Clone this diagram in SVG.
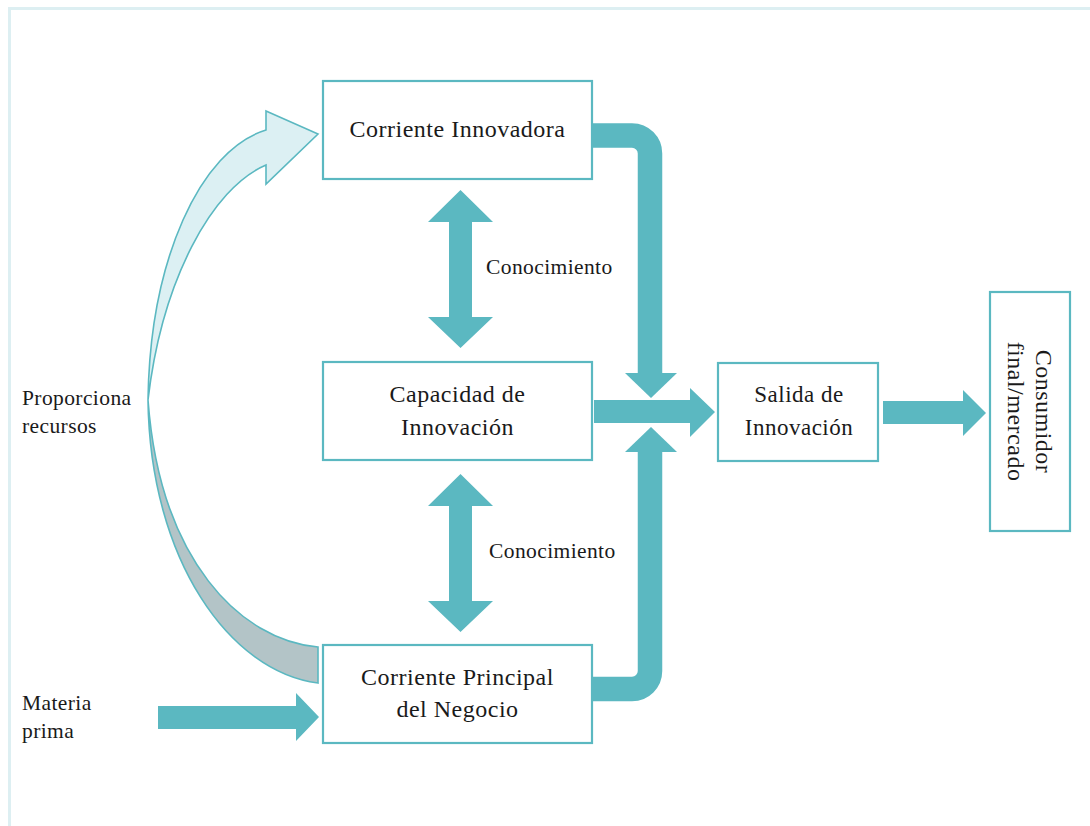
<svg xmlns="http://www.w3.org/2000/svg" width="1090" height="826" viewBox="0 0 1090 826">
  <style>
    .box { fill: #ffffff; stroke: #5bb8c1; stroke-width: 2.2; }
    .lbl { font-family: "Liberation Serif", "Times New Roman", serif; fill: #1a1a1a; }
    .big { font-size: 24px; letter-spacing: 0.5px; text-anchor: middle; }
    .small { font-size: 21.5px; letter-spacing: 0.4px; }
    .teal { fill: #5bb8c1; stroke: none; }
  </style>
  <rect x="0" y="0" width="1090" height="826" fill="#ffffff"/>
  <rect x="9.5" y="8.5" width="1200" height="900" fill="none" stroke="#ddeff2" stroke-width="3"/>

  <g id="connectors">
    <!-- curved resource arrow -->
    <path d="M148,400 C150,560 230,672 318,683 L318,647 C240,640 160,560 148,400 Z" fill="#b3c4c7" stroke="#5bb8c1" stroke-width="1.6"/>
    <path d="M148,400 C150,260 200,150 266,130 L266,111 L318,134 L266,184 L266,165 C212,188 162,280 148,400 Z" fill="#dcf0f3" stroke="#5bb8c1" stroke-width="1.6"/>
    <!-- materia prima arrow -->
    <path class="teal" d="M158,706 H296 V693 L319,717 L296,741 V729 H158 Z"/>
    <!-- conocimiento double arrows -->
    <path class="teal" d="M460.5,190 L493,222 H472 V317 H493 L460.5,348 L428,317 H449 V222 H428 Z"/>
    <path class="teal" d="M460.5,474 L493,506 H472 V601 H493 L460.5,632 L428,601 H449 V506 H428 Z"/>
    <!-- bent arrow from Corriente Innovadora -->
    <path d="M593,135.5 H632 A18,18 0 0 1 650,153.5 V374" fill="none" stroke="#5bb8c1" stroke-width="24.5"/>
    <path class="teal" d="M625,373 H677 L651,398 Z"/>
    <!-- bent arrow from Corriente Principal -->
    <path d="M593,689 H632 A18,18 0 0 0 650,671 V451" fill="none" stroke="#5bb8c1" stroke-width="24.5"/>
    <path class="teal" d="M625,452 H677 L651,427 Z"/>
    <!-- horizontal arrow from Capacidad -->
    <path class="teal" d="M594,400 H690 V388 L715,412 L690,437 V423 H594 Z" stroke="#ffffff" stroke-width="0.8"/>
    <!-- arrow to consumidor -->
    <path class="teal" d="M883,401 H963 V390 L986,413 L963,436 V424 H883 Z"/>
  </g>

  <g id="node-corriente-innovadora">
    <rect class="box" x="323" y="81" width="269" height="98"/>
    <text class="lbl big" x="457.5" y="137">Corriente Innovadora</text>
  </g>
  <g id="node-capacidad">
    <rect class="box" x="323" y="362" width="269" height="98"/>
    <text class="lbl big" x="457.5" y="402">Capacidad de</text>
    <text class="lbl big" x="457.5" y="435">Innovación</text>
  </g>
  <g id="node-corriente-principal">
    <rect class="box" x="323" y="645" width="269" height="98"/>
    <text class="lbl big" x="457.5" y="685">Corriente Principal</text>
    <text class="lbl big" x="457.5" y="717">del Negocio</text>
  </g>
  <g id="node-salida">
    <rect class="box" x="718" y="363" width="160" height="98"/>
    <text class="lbl big" x="799" y="402" style="font-size:23px">Salida de</text>
    <text class="lbl big" x="799" y="435" style="font-size:23px">Innovación</text>
  </g>
  <g id="node-consumidor">
    <rect class="box" x="990" y="292" width="80" height="239"/>
    <g transform="translate(1036,411.5) rotate(90)">
      <text class="lbl big" x="0" y="0">Consumidor</text>
      <text class="lbl big" x="0" y="28">final/mercado</text>
    </g>
  </g>

  <g id="labels">
    <text class="lbl small" x="486" y="274">Conocimiento</text>
    <text class="lbl small" x="489" y="558">Conocimiento</text>
    <text class="lbl small" x="22" y="405">Proporciona</text>
    <text class="lbl small" x="22" y="433">recursos</text>
    <text class="lbl small" x="22" y="710">Materia</text>
    <text class="lbl small" x="22" y="738">prima</text>
  </g>
</svg>
